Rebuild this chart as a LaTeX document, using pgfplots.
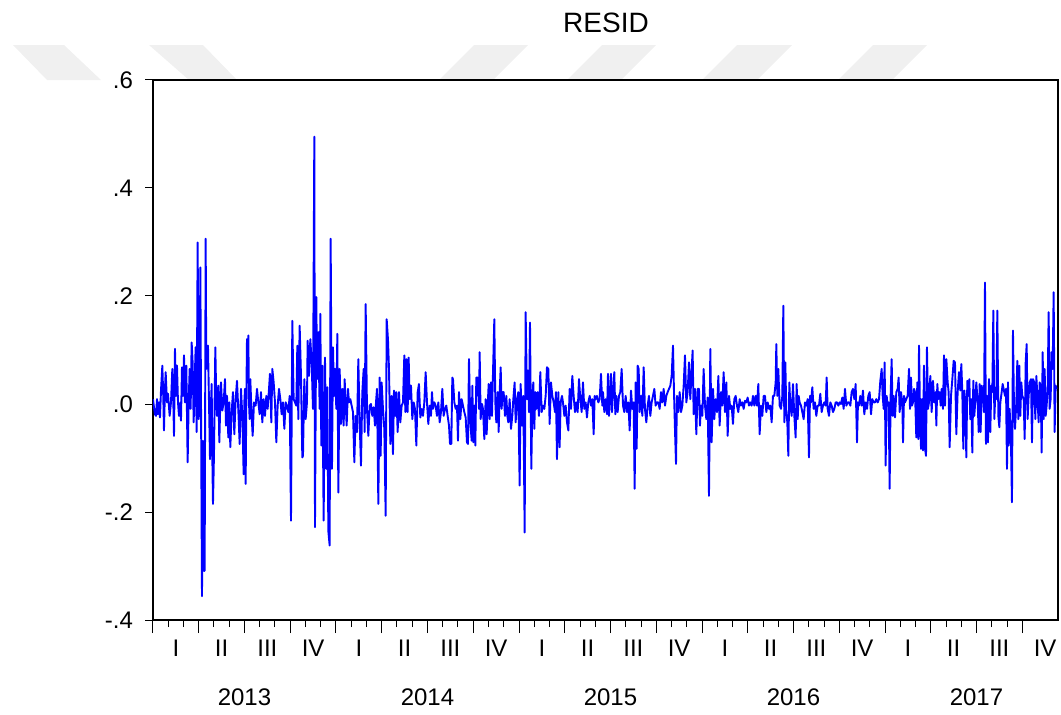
\documentclass[border=0pt]{standalone}
\usepackage{fontspec}
\setmainfont{Liberation Sans}
\usepackage{pgfplots}
\usepackage{pgfplotstable}
\pgfplotsset{compat=1.18}
% t: position along the time axis (549 units per year, t=0 at 1 Jan 2013); r: residual
\pgfplotstableread{
t r
0 0.009
3 -0.006
6 -0.019
9 -0.022
12 0.009
15 -0.019
18 0.003
21 -0.025
24 0.025
28 0.071
31 0.009
33 -0.049
36 0.028
38 0.059
42 0.003
45 0.019
50 -0.022
54 0.003
58 0.065
61 0.003
63 -0.059
66 0.102
69 0.015
72 0.071
75 0.003
78 -0.022
82 0.003
84 -0.031
87 0.068
90 0.015
93 0.090
96 0.003
100 0.071
104 -0.108
107 0.003
110 0.065
113 -0.009
116 0.114
119 0.077
122 -0.034
125 0.040
128 0.105
131 -0.052
134 0.299
137 -0.028
140 0.003
142 0.253
147 -0.356
150 -0.068
153 -0.309
155 -0.309
158 0.306
160 0.065
162 0.071
165 0.108
168 0.003
171 -0.102
174 0.003
176 0.037
178 -0.096
180 -0.185
183 -0.093
187 0.105
190 0.003
192 -0.022
196 0.034
199 -0.071
202 0.003
204 0.040
208 -0.012
212 0.003
216 0.046
219 -0.040
222 0.015
226 -0.062
229 0.003
232 -0.080
236 -0.015
240 0.022
244 -0.056
248 0.009
252 0.043
256 -0.012
260 -0.074
264 0.028
268 -0.022
272 -0.130
274 0.003
276 0.028
278 -0.148
280 0.003
282 0.120
284 0.040
286 0.127
288 0.003
290 -0.028
292 0.046
296 -0.022
299 -0.059
303 0.003
308 -0.003
312 0.028
316 0.003
320 -0.019
324 0.022
328 -0.034
332 0.009
336 -0.022
340 0.015
344 -0.009
348 0.028
351 0.056
355 -0.034
358 0.065
362 0.040
366 0.003
370 -0.071
374 -0.003
378 0.028
382 0.009
386 -0.019
390 0.003
394 -0.046
398 0.003
402 -0.003
406 -0.015
410 0.015
414 -0.216
418 0.154
422 0.009
426 0.003
430 -0.003
433 0.108
436 -0.028
440 0.145
444 0.052
448 -0.099
450 -0.096
454 0.046
458 -0.028
462 0.003
464 0.117
468 0.052
472 0.120
476 0.077
480 -0.009
484 0.495
486 -0.228
490 0.198
492 0.046
496 0.133
500 -0.009
502 0.167
505 -0.077
508 0.071
512 -0.216
516 0.086
520 -0.120
523 0.031
526 -0.235
530 -0.262
533 0.306
537 -0.120
540 0.105
543 0.015
546 0.065
550 -0.009
553 0.130
556 -0.164
560 0.065
564 -0.037
568 0.028
572 -0.040
575 0.046
578 0.003
581 -0.040
585 0.028
588 0.003
592 0.009
596 -0.003
600 -0.015
604 -0.108
608 -0.022
612 -0.052
616 0.083
620 -0.034
624 -0.114
628 0.022
632 0.065
635 -0.052
638 0.185
642 -0.009
646 -0.059
650 -0.003
654 0.000
658 -0.022
662 -0.006
666 -0.040
669 0.003
672 0.028
676 -0.185
680 0.049
683 -0.096
686 0.040
690 -0.009
694 -0.046
698 -0.207
701 0.157
705 0.120
708 0.065
712 -0.074
716 0.015
720 -0.093
723 0.025
727 -0.022
730 0.022
734 -0.052
738 0.022
742 -0.034
746 -0.003
750 0.003
754 0.090
757 -0.015
760 0.083
764 -0.015
767 0.086
770 0.009
774 0.034
778 -0.028
782 0.003
786 -0.009
790 -0.077
794 0.022
798 0.037
802 -0.025
806 -0.009
810 -0.022
814 0.003
818 0.059
822 0.003
826 -0.037
830 -0.003
834 -0.022
837 0.022
840 -0.009
844 0.003
848 -0.003
852 -0.022
856 0.003
860 -0.034
864 -0.015
868 0.028
872 -0.022
876 -0.009
880 -0.003
884 -0.022
888 -0.040
891 -0.074
895 -0.074
898 0.049
900 0.046
904 0.003
908 -0.009
912 -0.003
915 -0.068
918 0.022
922 -0.028
926 0.009
930 -0.003
934 -0.015
938 -0.025
942 -0.071
945 -0.074
948 0.083
952 -0.034
956 -0.068
958 0.034
961 -0.071
964 -0.003
967 -0.077
970 0.049
974 0.049
978 -0.009
980 0.096
983 -0.028
987 0.000
990 -0.009
994 -0.065
998 0.009
1001 -0.056
1004 -0.003
1007 0.037
1010 -0.028
1014 0.040
1017 -0.022
1020 0.056
1024 0.157
1027 0.003
1030 -0.034
1034 0.022
1037 -0.052
1040 0.022
1043 0.068
1046 -0.009
1049 0.022
1052 0.022
1056 -0.022
1060 0.015
1063 -0.022
1066 -0.034
1070 0.009
1074 -0.046
1078 -0.022
1081 0.009
1085 0.040
1088 -0.034
1092 0.009
1096 0.022
1100 -0.151
1103 0.037
1107 -0.040
1111 0.015
1115 -0.238
1118 0.170
1122 0.009
1125 0.062
1128 -0.015
1131 0.151
1135 -0.120
1138 0.003
1141 0.040
1144 -0.046
1147 0.022
1150 -0.009
1154 0.022
1158 -0.022
1162 0.059
1166 -0.015
1170 -0.003
1174 -0.009
1178 0.015
1182 0.068
1186 0.065
1190 -0.037
1194 0.040
1198 0.015
1202 0.003
1206 -0.015
1209 0.022
1212 -0.102
1216 0.022
1220 -0.080
1223 0.003
1227 0.015
1230 0.003
1234 -0.022
1238 -0.003
1242 -0.034
1246 -0.049
1250 0.028
1254 -0.009
1258 0.052
1262 0.015
1266 -0.015
1270 0.003
1274 -0.015
1278 0.046
1282 0.009
1286 -0.015
1290 0.040
1294 -0.009
1298 0.003
1302 -0.025
1306 0.003
1310 0.015
1314 -0.003
1318 0.009
1322 -0.056
1325 0.015
1328 0.009
1332 0.015
1336 0.003
1340 0.009
1344 0.056
1348 -0.003
1350 0.022
1354 -0.015
1358 0.009
1362 -0.019
1365 0.056
1368 -0.022
1371 0.015
1374 0.056
1377 -0.015
1380 0.022
1384 0.059
1387 -0.019
1390 0.015
1394 -0.015
1398 0.015
1402 0.022
1406 0.065
1410 -0.003
1414 -0.015
1418 0.015
1422 -0.015
1426 0.003
1430 -0.049
1434 0.025
1438 -0.009
1442 0.003
1445 -0.157
1448 0.040
1451 -0.083
1454 0.071
1457 0.065
1460 -0.015
1464 0.015
1468 -0.022
1472 0.068
1476 -0.009
1480 -0.034
1484 -0.003
1488 0.015
1492 -0.022
1496 0.003
1500 0.015
1504 0.028
1508 -0.003
1512 0.003
1516 0.003
1520 -0.009
1524 0.022
1528 0.003
1532 0.028
1536 -0.003
1540 0.015
1544 0.022
1548 0.028
1552 0.034
1556 0.052
1560 0.108
1563 0.022
1566 -0.049
1569 -0.111
1572 0.015
1576 -0.015
1580 0.022
1584 -0.015
1588 -0.003
1592 0.034
1596 0.090
1600 0.003
1604 0.022
1608 0.077
1612 0.009
1616 0.065
1619 0.099
1622 -0.019
1626 0.028
1630 -0.056
1634 0.028
1638 0.028
1641 -0.040
1644 -0.003
1648 -0.022
1652 0.065
1656 -0.003
1660 -0.028
1664 0.012
1668 -0.170
1672 0.102
1676 -0.071
1680 0.028
1684 -0.028
1688 0.009
1692 -0.015
1696 0.052
1700 -0.040
1704 0.022
1708 -0.003
1712 0.059
1716 -0.015
1720 0.040
1724 -0.059
1728 0.015
1732 -0.009
1736 -0.003
1740 -0.037
1744 0.009
1748 0.015
1752 -0.003
1756 -0.015
1760 0.009
1764 -0.003
1768 0.003
1772 -0.009
1776 0.006
1780 0.003
1784 0.012
1788 -0.003
1792 0.003
1796 -0.003
1800 0.015
1804 -0.003
1808 0.015
1812 -0.003
1816 0.037
1820 -0.056
1824 -0.003
1828 -0.022
1832 0.015
1836 0.015
1840 -0.015
1844 0.003
1848 -0.009
1852 -0.003
1856 -0.034
1860 0.015
1864 0.015
1868 0.040
1870 0.111
1873 0.015
1876 0.065
1880 -0.003
1884 -0.009
1888 0.015
1891 0.182
1894 -0.034
1897 0.077
1900 -0.015
1903 -0.034
1906 -0.096
1909 0.040
1912 -0.003
1916 -0.022
1920 0.037
1924 -0.022
1928 -0.062
1931 0.037
1934 -0.028
1937 0.015
1940 0.003
1944 -0.003
1948 -0.015
1952 -0.028
1956 0.003
1960 -0.003
1964 0.009
1968 -0.099
1971 0.015
1974 0.003
1978 0.031
1982 -0.009
1986 0.003
1990 -0.022
1994 -0.003
1998 -0.003
2002 0.019
2006 -0.015
2010 -0.003
2014 0.003
2018 -0.003
2021 0.049
2024 -0.009
2028 -0.022
2032 0.003
2036 -0.003
2040 -0.015
2044 -0.009
2048 0.003
2052 0.003
2056 -0.003
2060 0.003
2064 0.000
2068 0.012
2072 -0.009
2076 0.028
2080 -0.003
2084 0.003
2088 0.003
2092 -0.003
2096 0.022
2100 0.028
2104 0.009
2108 0.037
2112 -0.071
2115 0.003
2118 -0.003
2122 0.015
2126 -0.003
2130 0.025
2134 -0.019
2138 0.003
2142 -0.009
2146 0.015
2150 0.022
2154 -0.019
2158 0.009
2162 0.003
2166 0.003
2170 0.009
2174 0.003
2178 0.009
2182 0.043
2186 0.065
2189 0.015
2192 -0.009
2195 0.077
2198 -0.114
2201 0.015
2204 -0.003
2207 0.003
2210 -0.157
2213 0.015
2216 0.083
2219 -0.022
2222 0.015
2226 -0.025
2230 0.022
2234 0.028
2237 0.049
2240 -0.015
2244 0.022
2248 0.003
2250 -0.071
2253 0.015
2256 0.003
2260 0.009
2264 0.015
2268 0.065
2271 -0.009
2274 0.049
2277 -0.003
2280 0.003
2283 0.028
2286 0.022
2290 -0.062
2293 0.040
2296 -0.065
2298 0.108
2301 -0.015
2304 -0.083
2307 0.009
2310 -0.086
2313 0.071
2316 -0.083
2319 -0.096
2322 0.105
2325 -0.009
2328 0.003
2332 0.052
2336 -0.015
2340 0.043
2344 0.003
2348 0.022
2350 -0.040
2353 0.037
2356 0.009
2360 0.022
2363 -0.003
2366 0.028
2370 -0.009
2373 0.090
2376 -0.003
2380 0.083
2384 0.040
2387 0.022
2390 -0.080
2394 0.015
2398 0.046
2402 0.080
2406 0.077
2410 -0.056
2414 0.022
2418 0.059
2422 0.025
2425 0.074
2428 0.022
2431 -0.083
2434 0.025
2437 0.003
2440 -0.099
2443 0.043
2446 0.015
2449 0.046
2452 -0.028
2455 0.009
2458 -0.090
2461 0.043
2464 -0.022
2467 0.006
2470 0.040
2474 0.003
2477 -0.052
2480 0.037
2483 -0.052
2486 0.034
2490 0.015
2493 -0.015
2496 0.225
2499 -0.074
2502 0.015
2505 -0.071
2508 0.046
2512 -0.052
2515 0.034
2518 0.022
2521 0.173
2524 -0.028
2527 0.022
2530 0.009
2533 0.173
2536 -0.022
2539 -0.043
2542 0.003
2546 0.022
2549 0.037
2552 0.028
2556 0.015
2559 0.028
2562 -0.120
2565 0.040
2567 -0.077
2570 -0.009
2574 -0.077
2577 -0.182
2580 0.136
2583 -0.009
2586 -0.046
2590 0.003
2593 0.080
2596 -0.028
2599 0.071
2602 -0.022
2605 0.040
2608 0.015
2612 0.009
2615 -0.065
2618 0.077
2621 0.111
2624 -0.028
2627 0.015
2630 0.040
2634 0.046
2637 -0.071
2640 0.046
2644 0.040
2647 -0.028
2650 0.052
2654 0.003
2657 -0.034
2660 0.040
2663 0.034
2666 -0.090
2669 0.096
2672 -0.028
2675 0.065
2678 -0.022
2681 -0.003
2684 0.028
2687 0.170
2690 -0.009
2693 0.009
2696 0.096
2699 0.065
2702 0.207
2705 -0.052
2708 0.034
2711 0.028
}\residtable

\begin{document}
\begin{tikzpicture}
% faint watermark bands behind the top of the frame
\fill[black!6] (-70pt,287.5pt) -- (-44.5pt,287.5pt) -- (-26pt,270pt) -- (-53pt,270pt) -- cycle;
\fill[black!6] (-2pt,287.5pt) -- (25pt,287.5pt) -- (42pt,270pt) -- (18pt,270pt) -- cycle;
\fill[black!6] (160.5pt,287.5pt) -- (187.5pt,287.5pt) -- (170pt,270pt) -- (143pt,270pt) -- cycle;
\fill[black!6] (224.5pt,287.5pt) -- (251.5pt,287.5pt) -- (234pt,270pt) -- (207pt,270pt) -- cycle;
\fill[black!6] (292pt,287.5pt) -- (319.5pt,287.5pt) -- (302pt,270pt) -- (274.5pt,270pt) -- cycle;
\fill[black!6] (360pt,287.5pt) -- (387pt,287.5pt) -- (369.5pt,270pt) -- (342.5pt,270pt) -- cycle;
\begin{axis}[
  at={(0pt,0pt)}, anchor=south west,
  scale only axis, width=452.5pt, height=270pt,
  xmin=2013, xmax=2017.9454, ymin=-0.4, ymax=0.6,
  axis background/.style={fill=white},
  axis line style={line width=0.75pt},
  tick align=outside, tick pos=left,
  xtick={2013,2013.25,2013.5,2013.75,2014,2014.25,2014.5,2014.75,2015,2015.25,2015.5,2015.75,2016,2016.25,2016.5,2016.75,2017,2017.25,2017.5,2017.75},
  xticklabels={},
  minor x tick num=2,
  major tick length=6.5pt, minor tick length=3.5pt,
  ytick={-0.4,-0.2,0,0.2,0.4,0.6},
  yticklabels={-.4,-.2,.0,.2,.4,.6},
  ytick style={/pgfplots/major tick length=4pt},
  tick style={black, line width=0.5pt},
  yticklabel style={font=\fontsize{12}{14}\selectfont},
  clip mode=individual,
]
\addplot[color={rgb,255:red,0;green,0;blue,255}, line width=0.95pt, line join=round]
  table[x expr={2013+\thisrow{t}/549}, y=r]{\residtable};
\end{axis}
\node[font=\fontsize{14}{16}\selectfont, inner sep=0pt, anchor=base] at (226.5pt,294pt) {RESID};
\foreach \yr in {0,...,4}{
  \foreach \q/\lab in {1/I,2/II,3/III,4/IV}{
    \node[font=\fontsize{12}{14}\selectfont, inner sep=0pt] at ({(\yr+(\q-0.5)/4)*91.5pt},-14pt) {\lab};
  }
  \node[font=\fontsize{12}{14}\selectfont, inner sep=0pt] at ({(\yr+0.5)*91.5pt},-38.5pt) {\the\numexpr2013+\yr\relax};
}
\path (-76.5pt,-47pt) rectangle (454pt,310pt);
\end{tikzpicture}
\end{document}
